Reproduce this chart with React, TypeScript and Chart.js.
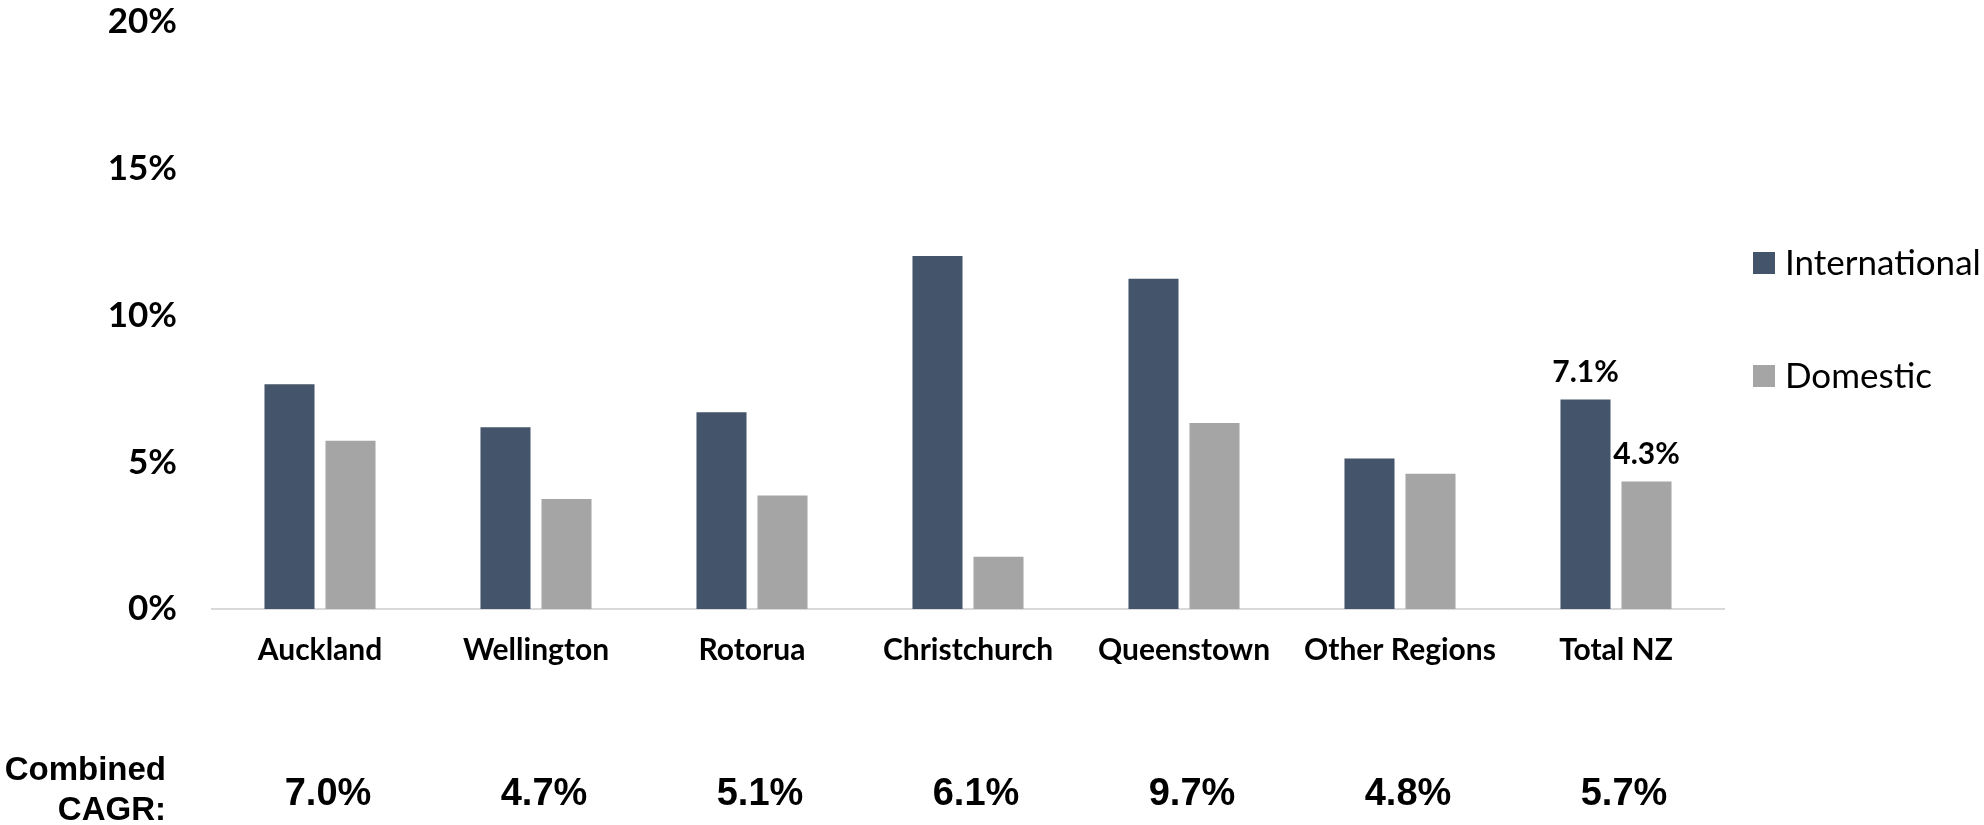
import React, { useEffect, useRef } from "react";
import { Chart, registerables } from "chart.js";

Chart.register(...registerables);

const categories = ["Auckland", "Wellington", "Rotorua", "Christchurch", "Queenstown", "Other Regions", "Total NZ"];
const internationalValues = [7.66, 6.19, 6.7, 12.03, 11.25, 5.13, 7.14];
const domesticValues = [5.73, 3.75, 3.87, 1.78, 6.34, 4.61, 4.34];
const combinedCagr = ["7.0%", "4.7%", "5.1%", "6.1%", "9.7%", "4.8%", "5.7%"];
const yTicks = [0, 5, 10, 15, 20];
const labelledIndex = 6;

const INTL = "#44546A";
const DOM = "#A5A5A5";

const overlayPlugin = {
  id: "overlay",
  afterDraw(chart: any) {
    const ctx = chart.ctx;
    const xScale = chart.scales.x;
    ctx.save();
    ctx.fillStyle = "#000";
    // data labels on Total NZ
    ctx.font = "bold 30px Lato";
    ctx.textAlign = "center";
    ctx.textBaseline = "middle";
    chart.data.datasets.forEach((ds: any, di: number) => {
      const el = chart.getDatasetMeta(di).data[labelledIndex];
      if (!el) return;
      ctx.fillText(Number(ds.data[labelledIndex]).toFixed(1) + "%", el.x, el.y - 27);
    });
    // legend
    const lx = 1753;
    const ly = [263, 376];
    chart.data.datasets.forEach((ds: any, di: number) => {
      ctx.fillStyle = ds.backgroundColor;
      ctx.fillRect(lx, ly[di] - 11, 22, 22);
      ctx.fillStyle = "#000";
      ctx.font = "35px Lato";
      ctx.textAlign = "left";
      ctx.textBaseline = "middle";
      ctx.fillText(ds.label, lx + 32, ly[di] + 1);
    });
    // combined CAGR row
    ctx.fillStyle = "#000";
    ctx.font = "bold 33px 'Liberation Sans', Arial";
    ctx.textAlign = "right";
    ctx.textBaseline = "middle";
    ctx.fillText("Combined", 166, 771);
    ctx.fillText("CAGR:", 166, 811);
    ctx.font = "bold 38px 'Liberation Sans', Arial";
    ctx.textAlign = "center";
    combinedCagr.forEach((t, i) => {
      ctx.fillText(t, xScale.getPixelForValue(i) + 8, 795);
    });
    ctx.restore();
  },
};

export default function App() {
  const ref = useRef<HTMLCanvasElement>(null);
  useEffect(() => {
    if (!ref.current) return;
    const chart = new Chart(ref.current, {
      type: "bar",
      data: {
        labels: categories,
        datasets: [
          { label: "International", data: internationalValues, backgroundColor: INTL, categoryPercentage: 0.565, barPercentage: 0.82 },
          { label: "Domestic", data: domesticValues, backgroundColor: DOM, categoryPercentage: 0.565, barPercentage: 0.82 },
        ],
      },
      options: {
        animation: false,
        responsive: false,
        maintainAspectRatio: false,
        layout: { padding: { left: 0, right: 260, top: 22, bottom: 0 } },
        plugins: { legend: { display: false }, tooltip: { enabled: false } },
        scales: {
          x: {
            grid: { display: false, drawTicks: false },
            border: { display: true, color: "#D9D9D9", width: 2 },
            ticks: { color: "#000", font: { family: "Lato", weight: "bold", size: 30 }, padding: 23, maxRotation: 0, autoSkip: false },
            afterFit: (s: any) => { s.height = 216; s.paddingLeft = 0; s.paddingRight = 0; },
          },
          y: {
            min: 0,
            max: 20,
            grid: { display: false, drawTicks: false },
            border: { display: false },
            afterBuildTicks: (s: any) => { s.ticks = yTicks.map((v) => ({ value: v })); },
            ticks: { color: "#000", font: { family: "Lato", weight: "bold", size: 35 }, padding: 35, callback: (v: any) => v + "%" },
            afterFit: (s: any) => { s.width = 212; s.paddingTop = 0; s.paddingBottom = 0; },
          },
        },
      },
      plugins: [overlayPlugin],
    });
    return () => chart.destroy();
  }, []);
  return (
    <div style={{ position: "fixed", left: 0, top: 0, width: 1984, height: 825, background: "#fff" }}>
      <canvas ref={ref} width={1984} height={825} style={{ width: 1984, height: 825, display: "block" }} />
    </div>
  );
}
